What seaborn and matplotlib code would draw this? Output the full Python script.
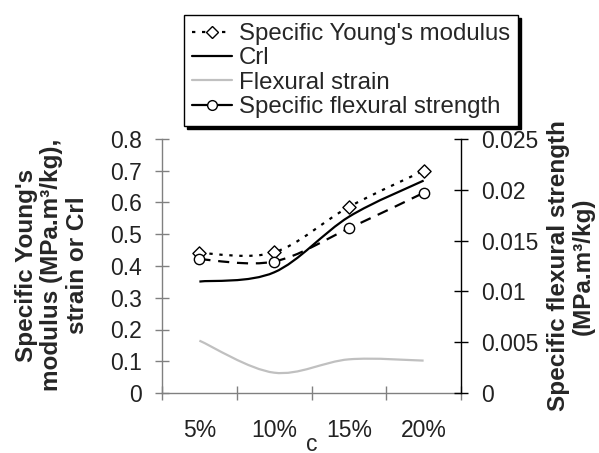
import numpy as np
import pandas as pd
import seaborn as sns
import matplotlib.pyplot as plt
from matplotlib.path import Path
from matplotlib.patches import PathPatch
from matplotlib.lines import Line2D

sns.set_style("white")
plt.rcParams['font.family'] = ['Liberation Sans', 'DejaVu Sans']

# Data
conc = ['5%', '10%', '15%', '20%']
youngs = [0.441, 0.443, 0.586, 0.700]      # specific Young's modulus (left axis)
crl = [0.351, 0.380, 0.555, 0.669]         # Crl (left axis)
strain = [0.165, 0.064, 0.106, 0.102]      # flexural strain (left axis)
flex = [0.01317, 0.01294, 0.0162, 0.0197]  # specific flexural strength (right axis)

pos = np.arange(len(conc))
df = pd.DataFrame({'pos': pos, 'youngs': youngs, 'crl': crl,
                   'strain': strain, 'flex': flex})


def smooth_path(xs, ys):
    # Excel-style smoothed line: cubic Bezier segments through the points
    pts = np.column_stack([xs, ys]).astype(float)
    n = len(pts)
    verts = [pts[0]]
    codes = [Path.MOVETO]
    for i in range(n - 1):
        p0 = pts[max(i - 1, 0)]
        p1 = pts[i]
        p2 = pts[i + 1]
        p3 = pts[min(i + 2, n - 1)]
        verts += [p1 + (p2 - p0) / 6, p2 - (p3 - p1) / 6, p2]
        codes += [Path.CURVE4] * 3
    return Path(verts, codes)


fig = plt.figure(figsize=(5.99, 4.53), dpi=100)
ax = fig.add_axes([162 / 599, 1 - 393 / 453, 299 / 599, 254 / 453])
ax2 = ax.twinx()

gray_axis = '#808080'
lw = 1.6

ax.add_patch(PathPatch(smooth_path(pos, strain), fill=False, color='#c0c0c0', lw=lw))
ax.add_patch(PathPatch(smooth_path(pos, crl), fill=False, color='black', lw=lw))
ax.add_patch(PathPatch(smooth_path(pos, youngs), fill=False, color='black', lw=lw,
                       linestyle=(0, (1.5, 3))))
sns.scatterplot(data=df, x='pos', y='youngs', ax=ax, marker='D', s=45,
                facecolor='white', edgecolor='black', linewidth=1, zorder=5)

ax2.add_patch(PathPatch(smooth_path(pos, flex), fill=False, color='black', lw=lw,
                        linestyle=(0, (5, 3.5))))
sns.scatterplot(data=df, x='pos', y='flex', ax=ax2, marker='o', s=55,
                facecolor='white', edgecolor='black', linewidth=1, zorder=5)

ax.set_xlim(-0.5, len(conc) - 0.5)
ax.set_ylim(0, 0.8)
ax2.set_ylim(0, 0.025)

ax.set_xticks(pos)
ax.set_xticklabels(conc)
ax.set_xticks(np.arange(-0.5, len(conc), 1.0), minor=True)
ax.tick_params(axis='x', which='major', length=0, pad=18.5, labelsize=16.5, colors='#222222')
ax.tick_params(axis='x', which='minor', direction='inout', length=9.5, width=1,
               color=gray_axis, bottom=True)

ax.set_yticks(np.arange(0, 0.81, 0.1))
ax.set_yticklabels(['0'] + [f'{v:.1f}' for v in np.arange(0.1, 0.81, 0.1)])
ax.tick_params(axis='y', direction='inout', length=9.5, width=1, color=gray_axis,
               pad=9.5, labelsize=16.5, labelcolor='#222222', left=True)

ax2.set_yticks(np.arange(0, 0.0251, 0.005))
ax2.set_yticklabels(['0', '0.005', '0.01', '0.015', '0.02', '0.025'])
ax2.tick_params(axis='y', direction='inout', length=9.5, width=1, color='black',
                pad=9.5, labelsize=16.5, labelcolor='#222222', right=True)

for s in ['top', 'right']:
    ax.spines[s].set_visible(False)
for s in ['top', 'left', 'bottom']:
    ax2.spines[s].set_visible(False)
ax.spines['left'].set_color(gray_axis)
ax.spines['bottom'].set_color(gray_axis)
ax2.spines['right'].set_color('black')
for sp in ['left', 'bottom']:
    ax.spines[sp].set_linewidth(1)
ax2.spines['right'].set_linewidth(1)

ax.set_xlabel('c', fontsize=16.5, labelpad=-6)
ax.set_ylabel('')
ax2.set_ylabel('')

fig.text(52 / 599, 1 - 265 / 453, "Specific Young's\nmodulus (MPa.m³/kg),\nstrain or Crl",
         rotation=90, ha='center', va='center', ma='center', fontsize=17.5,
         fontweight='bold', linespacing=1.15)
fig.text(571 / 599, 1 - 266 / 453, "Specific flexural strength\n(MPa.m³/kg)",
         rotation=90, ha='center', va='center', ma='center', fontsize=17.5,
         fontweight='bold', linespacing=1.1)

handles = [
    Line2D([], [], color='black', lw=lw, linestyle=(0, (1.5, 3)), marker='D',
           markersize=6, markerfacecolor='white', markeredgecolor='black'),
    Line2D([], [], color='black', lw=lw),
    Line2D([], [], color='#c0c0c0', lw=lw),
    Line2D([], [], color='black', lw=lw, marker='o', markersize=7,
           markerfacecolor='white', markeredgecolor='black'),
]
labels = ["Specific Young's modulus", 'Crl', 'Flexural strain', 'Specific flexural strength']
leg = fig.legend(handles, labels, loc='upper left', bbox_to_anchor=(184 / 599, 1 - 15 / 453),
                 fontsize=17.3, frameon=True, fancybox=False, framealpha=1,
                 edgecolor='black', labelspacing=0.1, handlelength=1.65,
                 handletextpad=0.3, borderpad=0.33, borderaxespad=0,
                 shadow={'facecolor': 'black', 'edgecolor': 'black', 'alpha': 1})
leg.get_frame().set_linewidth(1)

fig.savefig('out.png', dpi=100)
